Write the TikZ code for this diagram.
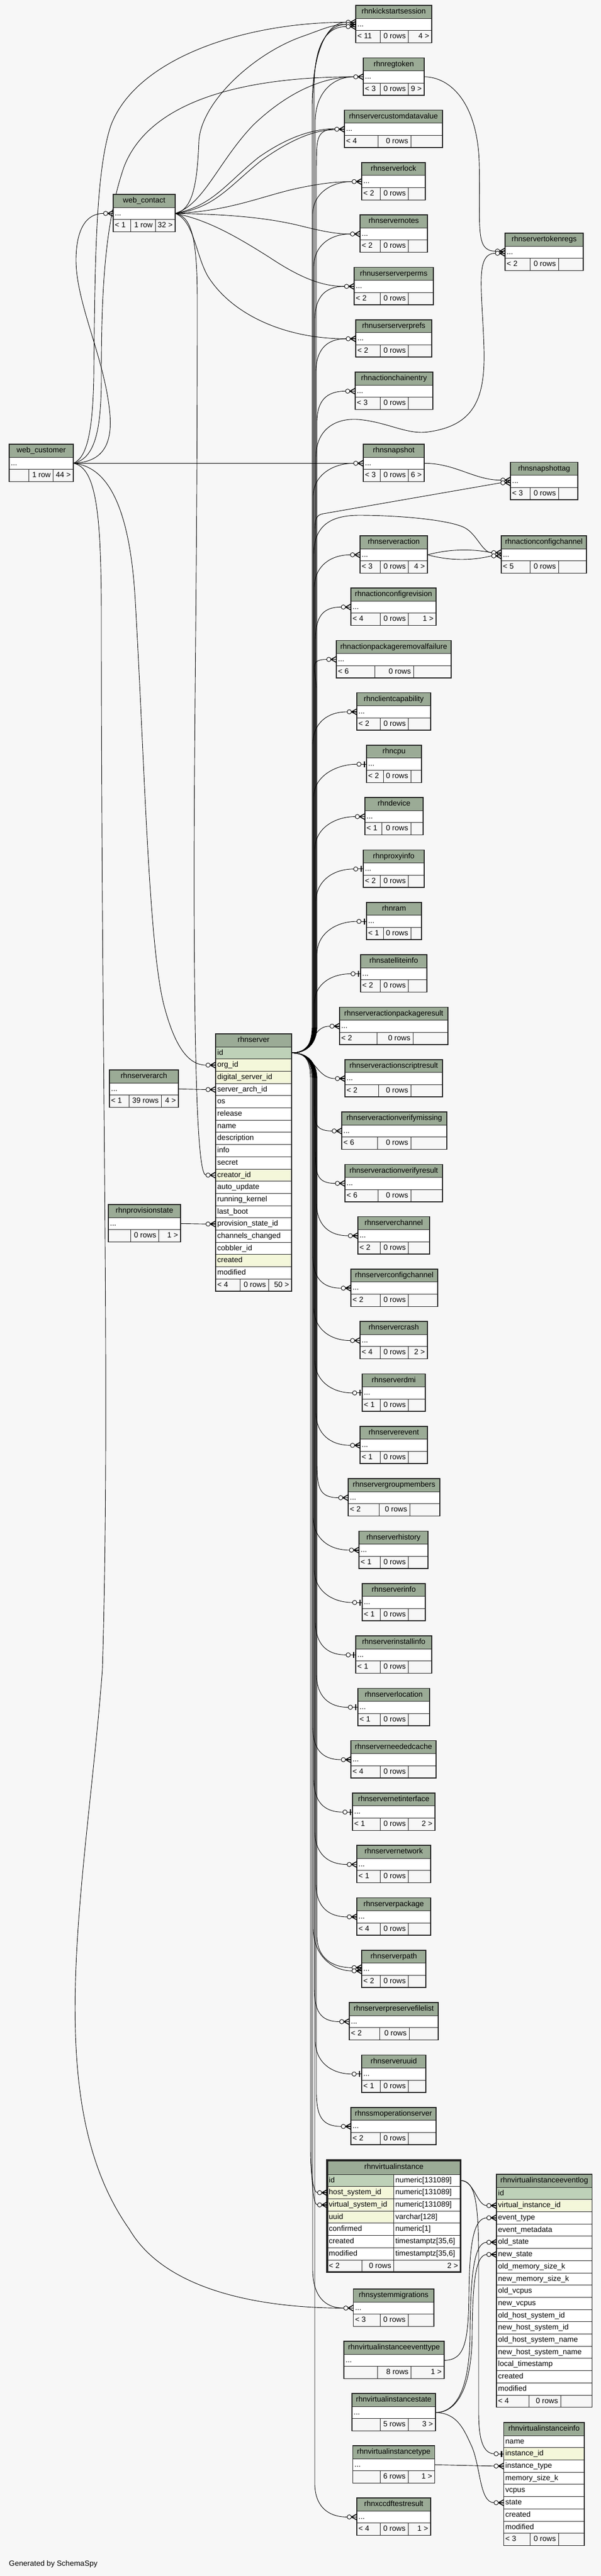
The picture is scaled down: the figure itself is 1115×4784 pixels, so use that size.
\documentclass[tikz,border=0pt]{standalone}
\usepackage{fontspec}
\setmainfont{Liberation Sans}
\usetikzlibrary{calc}
\pgfdeclarelayer{back}
\pgfdeclarelayer{bg}
\pgfsetlayers{back,bg,main}
\definecolor{hdr}{HTML}{9BAB96}
\definecolor{pk}{HTML}{BED1B8}
\definecolor{idx}{HTML}{F4F7DA}
\definecolor{bgc}{HTML}{F7F7F7}
\definecolor{bord}{HTML}{222222}
\tikzset{
  cellst/.style={draw=bord, line width=0.9pt, inner sep=0pt, outer sep=0pt},
  txt/.style={inner sep=0pt, font=\fontsize{14}{16}\selectfont, text=black, text height=10.2pt, text depth=2.8pt},
  conn/.style={draw=black, line width=0.9pt},
  mk/.style={draw=black, line width=1.6pt},
  frame/.style={draw=bord, line width=1.6pt},
}
\newcommand\cellbox[6]{%
  \pgfmathsetmacro\cw{#4-#2}\pgfmathsetmacro\ch{#5-#3}%
  \node[cellst, fill=#6, minimum width=\cw pt, minimum height=\ch pt, anchor=north west] (#1) at (#2,#3) {};%
}
\newcommand\pcell[5]{\filldraw[cellst, fill=#5] (#1,#2) rectangle (#3,#4);}
\newcommand\stbl[5]{%
  \pgfmathsetmacro\ya{#4+24}\pgfmathsetmacro\yb{#4+46.7}\pgfmathsetmacro\yc{#4+69.4}%
  \cellbox{#1-h}{#2}{#4}{#3}{\ya}{hdr}%
  \node[txt] at (#1-h.center) {#5};%
  \cellbox{#1}{#2}{\ya}{#3}{\yb}{white}%
  \node[txt, anchor=west] at ($(#1.west)+(3,0)$) {...};%
  \xdef\fA{#2}\xdef\fB{#3}\xdef\fY{\yb}\xdef\fZ{\yc}\xdef\fT{#4}%
}
\newcommand\sfoot[5]{%
  \pcell{\fA}{\fY}{#1}{\fZ}{bgc}\pcell{#1}{\fY}{#2}{\fZ}{bgc}\pcell{#2}{\fY}{\fB}{\fZ}{bgc}%
  \pgfmathsetmacro\fm{(\fY+\fZ)/2}%
  \node[txt, anchor=west] at (\fA+3,\fm) {#3};%
  \node[txt, anchor=east] at (#2-4.5,\fm) {#4};%
  \node[txt, anchor=east] at (\fB-4.5,\fm) {#5};%
  \draw[frame] (\fA,\fT) rectangle (\fB,\fZ);%
}
\newcommand\mtbl[7]{%
  \pgfmathsetmacro\ya{#4+24}%
  \cellbox{#1-h}{#2}{#4}{#3}{\ya}{hdr}%
  \node[txt] at (#1-h.center) {#5};%
  \foreach \rowt/\rowf [count=\ri] in {#7} {%
    \pgfmathsetmacro\ra{\ya+(\ri-1)*22.7}\pgfmathsetmacro\rb{\ra+22.7}%
    \cellbox{#1-\ri}{#2}{\ra}{#3}{\rb}{\rowf}%
    \node[txt, anchor=west] at ($(#1-\ri.west)+(3,0)$) {\rowt};%
  }%
  \pgfmathsetmacro\yb{\ya+#6*22.7}\pgfmathsetmacro\yc{\yb+22.7}%
  \xdef\fA{#2}\xdef\fB{#3}\xdef\fY{\yb}\xdef\fZ{\yc}\xdef\fT{#4}%
}
\newcommand\vrow[4]{%
  \pgfmathsetmacro\ra{4038+(#1-1)*22.7}\pgfmathsetmacro\rb{\ra+22.7}%
  \cellbox{vi-#1}{607}{\ra}{730.5}{\rb}{#4}%
  \cellbox{vit-#1}{730.5}{\ra}{854.5}{\rb}{white}%
  \node[txt,anchor=west] at ($(vi-#1.west)+(3,0)$) {#2};%
  \node[txt,anchor=west] at ($(vit-#1.west)+(3,0)$) {#3};%
}
\newcommand\crowm[2]{%
  \draw[mk] ($(#1.west)+(0,#2-5.5)$) -- ($(#1.west)+(-10,#2)$) -- ($(#1.west)+(0,#2+5.5)$);%
  \draw[mk] ($(#1.west)+(-10,#2)$) -- ($(#1.west)+(0,#2)$);%
  \draw[conn, fill=white] ($(#1.west)+(-14,#2)$) circle (4pt);%
}
\newcommand\teem[2]{%
  \draw[conn] ($(#1.west)+(-10,#2)$) -- ($(#1.west)+(0,#2)$);%
  \draw[line width=2.4pt] ($(#1.west)+(-4,#2-5.5)$) -- ($(#1.west)+(-4,#2+5.5)$);%
  \draw[conn, fill=white] ($(#1.west)+(-14,#2)$) circle (4pt);%
}
\newcommand\tup[4]{%
  \draw[conn] (srv-1.east) .. controls (568,1955.35) and (#2,1940) .. (#2,1905) -- ($(#1.west -| o)+(#2,#3)$) .. controls ($(#1.west -| o)+(#2+1,#3*0.35)$) and ($(#1.west)+(-55,#4)$) .. ($(#1.west)+(-18,#4)$);%
}
\newcommand\tdown[4]{%
  \draw[conn] (srv-1.east) .. controls (568,1955.35) and (#2,1970) .. (#2,2005) -- ($(#1.west -| o)+(#2,-#3)$) .. controls ($(#1.west -| o)+(#2+1,-#3*0.35)$) and ($(#1.west)+(-55,#4)$) .. ($(#1.west)+(-18,#4)$);%
}
\newcommand\tdir[2]{%
  \draw[conn] (srv-1.east) .. controls (585,1955.35) and ($(#1.west)+(-55,#2)$) .. ($(#1.west)+(-18,#2)$);%
}
\begin{document}
\begin{tikzpicture}[x=1pt,y=-1pt]
\useasboundingbox (0,0) rectangle (1115,4784);
\begin{pgfonlayer}{back}\fill[bgc] (0,0) rectangle (1115,4784);\end{pgfonlayer}
\coordinate (o) at (0,0);
% ---------- main column tables ----------
\stbl{kick}{660}{801}{10}{rhnkickstartsession}\sfoot{705.5}{757.5}{< 11}{0 rows}{4 >}
\stbl{regtoken}{674}{787}{107.3}{rhnregtoken}\sfoot{705.5}{757.5}{< 3}{0 rows}{9 >}
\stbl{cdv}{639}{821}{204.6}{rhnservercustomdatavalue}\sfoot{701}{762}{< 4}{0 rows}{}
\stbl{lock}{671}{789}{301.9}{rhnserverlock}\sfoot{705.5}{757.5}{< 2}{0 rows}{}
\stbl{notes}{668}{793}{399.2}{rhnservernotes}\sfoot{705.5}{757.5}{< 2}{0 rows}{}
\stbl{perms}{657}{804}{496.5}{rhnuserserverperms}\sfoot{705.5}{757.5}{< 2}{0 rows}{}
\stbl{prefs}{660}{801}{593.8}{rhnuserserverprefs}\sfoot{705.5}{757.5}{< 2}{0 rows}{}
\stbl{chain}{659}{803}{691.1}{rhnactionchainentry}\sfoot{705.5}{757.5}{< 3}{0 rows}{}
\stbl{snap}{674}{787}{825}{rhnsnapshot}\sfoot{705.5}{757.5}{< 3}{0 rows}{6 >}
\stbl{saction}{668}{793}{995}{rhnserveraction}\sfoot{705.5}{757.5}{< 3}{0 rows}{4 >}
\stbl{crev}{651}{809}{1092}{rhnactionconfigrevision}\sfoot{705.5}{757.5}{< 4}{0 rows}{1 >}
\stbl{prf}{624}{837}{1189.3}{rhnactionpackageremovalfailure}\sfoot{695}{767}{< 6}{0 rows}{}
\stbl{ccap}{662}{799}{1286.6}{rhnclientcapability}\sfoot{705.5}{757.5}{< 2}{0 rows}{}
\stbl{cpu}{680}{782}{1383.9}{rhncpu}\sfoot{711}{762}{< 2}{0 rows}{}
\stbl{device}{677}{785}{1481.2}{rhndevice}\sfoot{708}{762}{< 1}{0 rows}{}
\stbl{proxy}{674}{787}{1578.5}{rhnproxyinfo}\sfoot{705.5}{757.5}{< 2}{0 rows}{}
\stbl{ram}{680}{782}{1675.8}{rhnram}\sfoot{711}{762}{< 1}{0 rows}{}
\stbl{sat}{669}{792}{1773.1}{rhnsatelliteinfo}\sfoot{705.5}{757.5}{< 2}{0 rows}{}
\stbl{pres}{630}{831}{1870.4}{rhnserveractionpackageresult}\sfoot{699}{766}{< 2}{0 rows}{}
\stbl{sres}{640}{821}{1967.7}{rhnserveractionscriptresult}\sfoot{702}{762}{< 2}{0 rows}{}
\stbl{vmiss}{634}{829}{2065}{rhnserveractionverifymissing}\sfoot{700}{762}{< 6}{0 rows}{}
\stbl{vres}{640}{821}{2162.3}{rhnserveractionverifyresult}\sfoot{701}{762}{< 6}{0 rows}{}
\stbl{schan}{664}{797}{2259.6}{rhnserverchannel}\sfoot{705.5}{757.5}{< 2}{0 rows}{}
\stbl{scfg}{651}{812}{2356.9}{rhnserverconfigchannel}\sfoot{705.5}{757.5}{< 2}{0 rows}{}
\stbl{crash}{668}{793}{2454.2}{rhnservercrash}\sfoot{705.5}{757.5}{< 4}{0 rows}{2 >}
\stbl{dmi}{672}{789}{2551.5}{rhnserverdmi}\sfoot{705.5}{757.5}{< 1}{0 rows}{}
\stbl{event}{668}{793}{2648.8}{rhnserverevent}\sfoot{705.5}{757.5}{< 1}{0 rows}{}
\stbl{grp}{646}{816}{2746.1}{rhnservergroupmembers}\sfoot{703}{760}{< 2}{0 rows}{}
\stbl{hist}{666}{794}{2843.4}{rhnserverhistory}\sfoot{705.5}{757.5}{< 1}{0 rows}{}
\stbl{sinfo}{672}{789}{2940.7}{rhnserverinfo}\sfoot{705.5}{757.5}{< 1}{0 rows}{}
\stbl{inst}{660}{801}{3038}{rhnserverinstallinfo}\sfoot{705.5}{757.5}{< 1}{0 rows}{}
\stbl{loc}{664}{797}{3135.3}{rhnserverlocation}\sfoot{705.5}{757.5}{< 1}{0 rows}{}
\stbl{need}{651}{809}{3232.6}{rhnserverneededcache}\sfoot{705.5}{757.5}{< 4}{0 rows}{}
\stbl{netif}{654}{807}{3329.9}{rhnservernetinterface}\sfoot{705.5}{757.5}{< 1}{0 rows}{2 >}
\stbl{net}{662}{799}{3427.2}{rhnservernetwork}\sfoot{705.5}{757.5}{< 1}{0 rows}{}
\stbl{pkg}{662}{799}{3524.5}{rhnserverpackage}\sfoot{705.5}{757.5}{< 4}{0 rows}{}
\stbl{spath}{671}{790}{3621.8}{rhnserverpath}\sfoot{705.5}{757.5}{< 2}{0 rows}{}
\stbl{pfl}{648}{813}{3719.1}{rhnserverpreservefilelist}\sfoot{704}{759}{< 2}{0 rows}{}
\stbl{uuid}{671}{790}{3816.4}{rhnserveruuid}\sfoot{705.5}{757.5}{< 1}{0 rows}{}
\stbl{ssm}{651}{809}{3913.7}{rhnssmoperationserver}\sfoot{705.5}{757.5}{< 2}{0 rows}{}
\stbl{sysmig}{655.6}{805}{4251}{rhnsystemmigrations}\sfoot{705}{757}{< 3}{0 rows}{}
\stbl{etype}{638}{824}{4348}{rhnvirtualinstanceeventtype}\sfoot{700.6}{762.6}{}{8 rows}{1 >}
\stbl{vstate}{653}{808}{4445}{rhnvirtualinstancestate}\sfoot{705}{757}{}{5 rows}{3 >}
\stbl{vtype}{654.5}{806.6}{4542}{rhnvirtualinstancetype}\sfoot{705}{757}{}{6 rows}{1 >}
\stbl{xccdf}{662}{799}{4639}{rhnxccdftestresult}\sfoot{705}{757}{< 4}{0 rows}{1 >}
% ---------- right column ----------
\stbl{tokr}{937}{1082}{433}{rhnservertokenregs}\sfoot{983.6}{1036}{< 2}{0 rows}{}
\stbl{stag}{947}{1072}{858.3}{rhnsnapshottag}\sfoot{983.7}{1036}{< 3}{0 rows}{}
\stbl{acc}{930}{1088}{995}{rhnactionconfigchannel}\sfoot{983.7}{1036}{< 5}{0 rows}{}
% ---------- left ----------
\stbl{wcust}{17}{136}{825}{web\_customer}\sfoot{53}{98.7}{}{1 row}{44 >}
\stbl{wcont}{210}{325}{361}{web\_contact}\sfoot{242}{288}{< 1}{1 row}{32 >}
\stbl{arch}{203}{331}{1987}{rhnserverarch}\sfoot{239}{299}{< 1}{39 rows}{4 >}
\stbl{prov}{201}{335}{2237}{rhnprovisionstate}\sfoot{242.5}{294.5}{}{0 rows}{1 >}
% ---------- rhnserver ----------
\mtbl{srv}{400}{541}{1920}{rhnserver}{19}{id/pk, org\_id/idx, digital\_server\_id/idx, server\_arch\_id/white, os/white, release/white, name/white, description/white, info/white, secret/white, creator\_id/idx, auto\_update/white, running\_kernel/white, last\_boot/white, provision\_state\_id/white, channels\_changed/white, cobbler\_id/white, created/idx, modified/white}
\sfoot{445}{498}{< 4}{0 rows}{50 >}
% ---------- rhnvirtualinstance ----------
\cellbox{vi-h}{607}{4012}{854.5}{4038}{hdr}
\node[txt] at (vi-h.center) {rhnvirtualinstance};
\vrow{1}{id}{numeric[131089]}{pk}
\vrow{2}{host\_system\_id}{numeric[131089]}{idx}
\vrow{3}{virtual\_system\_id}{numeric[131089]}{idx}
\vrow{4}{uuid}{varchar[128]}{idx}
\vrow{5}{confirmed}{numeric[1]}{white}
\vrow{6}{created}{timestamptz[35,6]}{white}
\vrow{7}{modified}{timestamptz[35,6]}{white}
\xdef\fA{607}\xdef\fB{854.5}\xdef\fY{4196.9}\xdef\fZ{4219.6}\xdef\fT{4012}
\sfoot{671}{730.5}{< 2}{0 rows}{2 >}
\draw[bord, line width=3.5pt] (607,4012) rectangle (854.5,4219.6);
% ---------- event log & info ----------
\mtbl{el}{921}{1098.5}{4038}{rhnvirtualinstanceeventlog}{17}{id/pk, virtual\_instance\_id/idx, event\_type/white, event\_metadata/white, old\_state/white, new\_state/white, old\_memory\_size\_k/white, new\_memory\_size\_k/white, old\_vcpus/white, new\_vcpus/white, old\_host\_system\_id/white, new\_host\_system\_id/white, old\_host\_system\_name/white, new\_host\_system\_name/white, local\_timestamp/white, created/white, modified/white}
\sfoot{981}{1040}{< 4}{0 rows}{}
\mtbl{vinfo}{934.5}{1084}{4499}{rhnvirtualinstanceinfo}{8}{name/white, instance\_id/idx, instance\_type/white, memory\_size\_k/white, vcpus/white, state/white, created/white, modified/white}
\sfoot{983.5}{1036}{< 3}{0 rows}{}
\node[txt,anchor=west] (gen) at (16.5,4762) {Generated by SchemaSpy};
% ================= connectors =================
\begin{pgfonlayer}{bg}
% web_customer
\draw[conn] (wcust.east) .. controls (195,858) and (210,820) .. (203,760) .. controls (192,660) and (140,560) .. (141,480) .. controls (142,425) and (160,396.4) .. ($(wcont.west)+(-18,0)$);
\draw[conn] (wcust.east) .. controls (162,850) and (172,800) .. (174,700) .. controls (176,480) and (178,320) .. (205,235) .. controls (250,110) and (450,41.5) .. ($(kick.west)+(-18,-4)$);
\draw[conn] (wcust.east) .. controls (176,852) and (188,800) .. (188,700) .. controls (188,560) and (192,420) .. (230,310) .. controls (280,180) and (470,142.8) .. ($(regtoken.west)+(-18,0)$);
\draw[conn] (wcust.east) -- ($(snap.west)+(-18,0)$);
\draw[conn] (wcust.east) .. controls (195,866) and (238,930) .. (250,1100) .. controls (268,1400) and (275,1760) .. (305,1870) .. controls (325,1945) and (350,1978) .. ($(srv-2.west)+(-18,0)$);
\draw[conn] (wcust.east) .. controls (180,868) and (188,960) .. (188,1150) .. controls (188,2000) and (205,2600) .. (190,3100) .. controls (160,3500) and (70,3900) .. (240,4140) .. controls (310,4260) and (500,4286.5) .. ($(sysmig.west)+(-18,0)$);
% web_contact
\draw[conn] (wcont.east) .. controls (358,390) and (366,340) .. (369,262) .. controls (373,190) and (470,100) .. (560,68) .. controls (600,54) and (615,45.5) .. ($(kick.west)+(-18,0)$);
\draw[conn] (wcont.east) .. controls (378,380) and (405,300) .. (470,232) .. controls (535,170) and (600,142.8) .. ($(regtoken.west)+(-18,0)$);
\draw[conn] (wcont.east) .. controls (395,382) and (420,340) .. (480,292) .. controls (540,250) and (585,240) .. ($(cdv.west)+(-18,-1)$);
\draw[conn] (wcont.east) .. controls (398,387) and (425,346) .. (485,298) .. controls (545,255) and (588,241) .. ($(cdv.west)+(-18,1)$);
\draw[conn] (wcont.east) .. controls (430,392) and (490,362) .. (560,348) .. controls (605,339) and (630,337.4) .. ($(lock.west)+(-18,0)$);
\draw[conn] (wcont.east) .. controls (430,398) and (500,405) .. (560,420) .. controls (600,430) and (625,434.7) .. ($(notes.west)+(-18,0)$);
\draw[conn] (wcont.east) .. controls (385,408) and (440,440) .. (500,478) .. controls (560,518) and (600,532) .. ($(perms.west)+(-18,0)$);
\draw[conn] (wcont.east) .. controls (360,410) and (362,470) .. (385,512) .. controls (430,585) and (530,629.3) .. ($(prefs.west)+(-18,0)$);
\draw[conn] (wcont.east) .. controls (355,402) and (366,440) .. (366,560) .. controls (366,1200) and (356,1500) .. (362,1900) .. controls (365,2100) and (372,2182.4) .. ($(srv-11.west)+(-18,0)$);
% rhnserver trunk, upward
\tup{kick}{579}{150}{-4}
\tup{kick}{581}{130}{0}
\tup{kick}{583}{110}{4}
\tup{regtoken}{585}{80}{0}
\tup{cdv}{587}{70}{0}
\tup{lock}{580}{60}{0}
\tup{notes}{582}{60}{0}
\tup{perms}{584}{60}{0}
\tup{prefs}{586}{60}{0}
\tup{chain}{588}{55}{0}
\tup{snap}{581}{60}{0}
\tup{saction}{583}{60}{0}
\tup{crev}{585}{60}{0}
\tup{prf}{587}{60}{0}
\tup{ccap}{580}{60}{0}
\tup{cpu}{582}{60}{0}
\tup{device}{584}{60}{0}
\tup{proxy}{586}{60}{0}
\tup{ram}{588}{60}{0}
\tup{sat}{583}{55}{0}
\draw[conn] (srv-1.east) .. controls (568,1955.35) and (586,1940) .. (586,1905) -- (586,850) .. controls (586,795) and (625,776) .. (665,779) .. controls (720,784) and (755,808) .. (795,802) .. controls (880,790) and (900,740) .. (898,650) .. controls (895,540) and (880,470.5) .. ($(tokr.west)+(-18,2)$);
\draw[conn] (srv-1.east) .. controls (568,1955.35) and (584,1940) .. (584,1905) -- (584,985) .. controls (584,962) and (588,956) .. (600,954) -- ($(stag.west)+(-18,3)$);
\draw[conn] (srv-1.east) .. controls (568,1955.35) and (582,1940) .. (582,1905) -- (582,1030) .. controls (582,975) and (615,957) .. (666,957) .. controls (745,957) and (835,966) .. (862,980) .. controls (885,992) and (895,1026.5) .. ($(acc.west)+(-18,-4)$);
\tdir{pres}{0}
\tdir{sres}{0}
% rhnserver trunk, downward
\tdown{vmiss}{583}{60}{0}
\tdown{vres}{585}{60}{0}
\tdown{schan}{587}{60}{0}
\tdown{scfg}{580}{60}{0}
\tdown{crash}{582}{60}{0}
\tdown{dmi}{584}{60}{0}
\tdown{event}{586}{60}{0}
\tdown{grp}{588}{60}{0}
\tdown{hist}{581}{60}{0}
\tdown{sinfo}{583}{60}{0}
\tdown{inst}{585}{60}{0}
\tdown{loc}{587}{60}{0}
\tdown{need}{580}{60}{0}
\tdown{netif}{582}{60}{0}
\tdown{net}{584}{60}{0}
\tdown{pkg}{586}{60}{0}
\tdown{spath}{588}{60}{-3}
\tdown{spath}{581}{75}{3}
\tdown{pfl}{583}{60}{0}
\tdown{uuid}{585}{60}{0}
\tdown{ssm}{587}{60}{0}
\draw[conn] (srv-1.east) .. controls (568,1955.35) and (576,1970) .. (576,2005) -- (576,3990) .. controls (576,4040) and (582,4072.7) .. ($(vi-2.west)+(-18,0)$);
\draw[conn] (srv-1.east) .. controls (568,1955.35) and (578,1970) .. (578,2005) -- (578,4010) .. controls (578,4060) and (582,4095.4) .. ($(vi-3.west)+(-18,0)$);
\tdown{sysmig}{580}{70}{0}
\tdown{xccdf}{584}{60}{0}
% other relations
\draw[conn] (regtoken.east) .. controls (835,142.8) and (885,190) .. (889,300) .. controls (892,420) and (880,466.5) .. ($(tokr.west)+(-18,-2)$);
\draw[conn] (snap.east) .. controls (845,860.35) and (880,891.8) .. ($(stag.west)+(-18,-2)$);
\draw[conn] (saction.east) .. controls (840,1018) and (880,1020) .. ($(acc.west)+(-18,-4)$);
\draw[conn] (saction.east) .. controls (840,1043) and (880,1040) .. ($(acc.west)+(-18,2)$);
\draw[conn] (arch.east) -- ($(srv-4.west)+(-18,0)$);
\draw[conn] (prov.east) -- ($(srv-15.west)+(-18,0)$);
\draw[conn] (vit-1.east) .. controls (880,4050) and (885,4096) .. ($(el-2.west)+(-18,0)$);
\draw[conn] (vit-1.east) .. controls (882,4050) and (888,4090) .. (888,4200) -- (888,4480) .. controls (888,4530) and (896,4556) .. ($(vinfo-2.west)+(-18,0)$);
\draw[conn] (etype.east) .. controls (862,4383.5) and (869,4350) .. (870,4260) .. controls (871,4160) and (880,4119.6) .. ($(el-3.west)+(-18,0)$);
\draw[conn] (vstate.east) .. controls (845,4480) and (872,4440) .. (872,4330) .. controls (873,4210) and (882,4165) .. ($(el-5.west)+(-18,0)$);
\draw[conn] (vstate.east) .. controls (845,4481) and (876,4440) .. (876,4330) .. controls (877,4230) and (884,4187.6) .. ($(el-6.west)+(-18,0)$);
\draw[conn] (vstate.east) .. controls (850,4481) and (862,4515) .. (876,4545) .. controls (892,4585) and (890,4647.3) .. ($(vinfo-6.west)+(-18,0)$);
\draw[conn] (vtype.east) -- ($(vinfo-3.west)+(-18,0)$);
\end{pgfonlayer}
% ================= end markers =================
\crowm{kick}{-4}\crowm{kick}{0}\crowm{kick}{4}
\crowm{regtoken}{0}\crowm{cdv}{0}\crowm{lock}{0}\crowm{notes}{0}\crowm{perms}{0}\crowm{prefs}{0}
\crowm{chain}{0}\crowm{snap}{0}\crowm{saction}{0}\crowm{crev}{0}\crowm{prf}{0}\crowm{ccap}{0}
\teem{cpu}{0}\crowm{device}{0}\teem{proxy}{0}\teem{ram}{0}\teem{sat}{0}
\crowm{pres}{0}\crowm{sres}{0}\crowm{vmiss}{0}\crowm{vres}{0}\crowm{schan}{0}\crowm{scfg}{0}
\crowm{crash}{0}\teem{dmi}{0}\crowm{event}{0}\crowm{grp}{0}\crowm{hist}{0}\teem{sinfo}{0}
\teem{inst}{0}\teem{loc}{0}\crowm{need}{0}\teem{netif}{0}\crowm{net}{0}\crowm{pkg}{0}
\crowm{spath}{-3}\crowm{spath}{3}\crowm{pfl}{0}\teem{uuid}{0}\crowm{ssm}{0}
\crowm{sysmig}{0}\crowm{xccdf}{0}
\crowm{tokr}{-2}\crowm{tokr}{2}\crowm{stag}{-2}\crowm{stag}{3}\crowm{acc}{-4}\crowm{acc}{2}
\crowm{wcont}{0}\crowm{srv-2}{0}\crowm{srv-4}{0}\crowm{srv-11}{0}\crowm{srv-15}{0}
\crowm{vi-2}{0}\crowm{vi-3}{0}
\crowm{el-2}{0}\crowm{el-3}{0}\crowm{el-5}{0}\crowm{el-6}{0}
\teem{vinfo-2}{0}\crowm{vinfo-3}{0}\crowm{vinfo-6}{0}
\end{tikzpicture}
\end{document}
